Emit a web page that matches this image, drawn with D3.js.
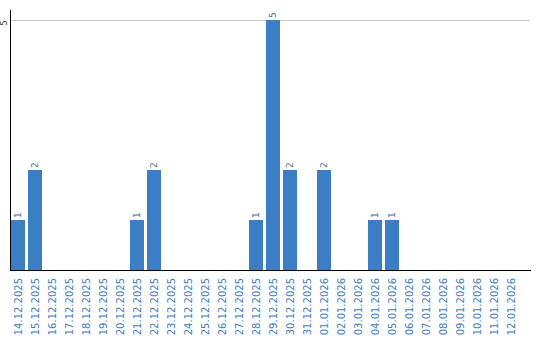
<!DOCTYPE html>
<html><head><meta charset="utf-8">
<script src="https://cdn.jsdelivr.net/npm/d3@7"></script>
<style>body{margin:0;background:#fff}svg{display:block}text{font-family:"DejaVu Sans",Verdana,sans-serif}</style>
</head><body>
<svg id="c" width="540" height="340"></svg>
<script>
const categories = ["14.12.2025","15.12.2025","16.12.2025","17.12.2025","18.12.2025","19.12.2025","20.12.2025","21.12.2025","22.12.2025","23.12.2025","24.12.2025","25.12.2025","26.12.2025","27.12.2025","28.12.2025","29.12.2025","30.12.2025","31.12.2025","01.01.2026","02.01.2026","03.01.2026","04.01.2026","05.01.2026","06.01.2026","07.01.2026","08.01.2026","09.01.2026","10.01.2026","11.01.2026","12.01.2026"];
const values = [1,2,0,0,0,0,0,1,2,0,0,0,0,0,1,5,2,0,2,0,0,1,1,0,0,0,0,0,0,0];
const yTicks = [5];

const svg = d3.select("#c");
const x = d3.scaleBand().domain(categories).range([9.5, 519.5]).paddingInner(3/17).paddingOuter(3/34);
const y = d3.scaleLinear().domain([0, 5]).range([270, 20]);

// grid
svg.append("g").selectAll("line").data(yTicks).join("line")
  .attr("x1", 11).attr("x2", 530).attr("y1", d => y(d)+0.5).attr("y2", d => y(d)+0.5)
  .attr("stroke", "#cccccc").attr("stroke-width", 1);

// bars
svg.append("g").selectAll("rect").data(values.map((v,i)=>({v,c:categories[i]})).filter(d=>d.v>0)).join("rect")
  .attr("x", d => x(d.c)).attr("width", x.bandwidth())
  .attr("y", d => y(d.v)).attr("height", d => y(0) - y(d.v))
  .attr("fill", "#3b7ec3");

// value labels
svg.append("g").selectAll("text").data(values.map((v,i)=>({v,c:categories[i]})).filter(d=>d.v>0)).join("text")
  .attr("transform", d => `translate(${x(d.c)+x.bandwidth()/2},${y(d.v)-2}) rotate(-90)`)
  .attr("dy", "0.35em").attr("text-anchor", "start")
  .attr("font-size", 9).attr("fill", "#4a6f94").text(d => d.v);

// axes lines
svg.append("line").attr("x1", 10.5).attr("x2", 10.5).attr("y1", 10).attr("y2", 271).attr("stroke", "#000");
svg.append("line").attr("x1", 10).attr("x2", 531).attr("y1", 270.5).attr("y2", 270.5).attr("stroke", "#000");

// y tick labels
svg.append("g").selectAll("text").data(yTicks).join("text")
  .attr("transform", d => `translate(4,${y(d)+3}) rotate(-90)`)
  .attr("dy", "0.35em").attr("text-anchor", "middle")
  .attr("font-size", 8).attr("fill", "#333").text(d => d);

// x labels
svg.append("g").selectAll("text").data(categories).join("text")
  .attr("transform", d => `translate(${x(d)+x.bandwidth()/2},278) rotate(-90)`)
  .attr("dy", "0.35em").attr("text-anchor", "end")
  .attr("font-size", 10).attr("fill", "#3b7ec3").text(d => d);
</script>
</body></html>
